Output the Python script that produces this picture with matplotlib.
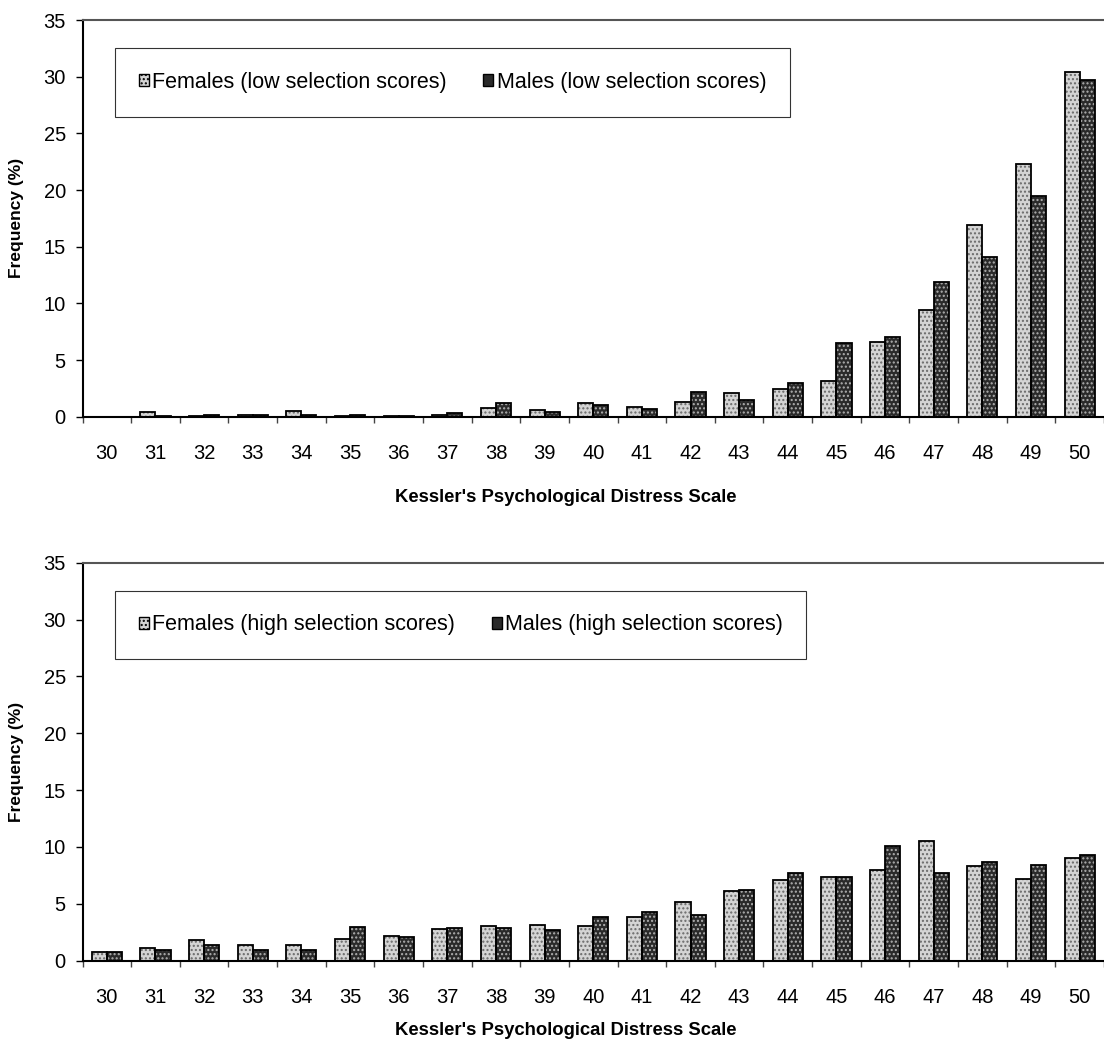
import matplotlib.pyplot as plt
import numpy as np

plt.rcParams["font.family"] = ["Liberation Sans", "DejaVu Sans"]

scores = list(range(30, 51))

# low selection scores (top panel)
females_low = [0.0, 0.4, 0.1, 0.15, 0.5, 0.05, 0.05, 0.15, 0.8, 0.55, 1.25,
               0.85, 1.3, 2.05, 2.45, 3.15, 6.55, 9.45, 16.9, 22.3, 30.4]
males_low = [0.0, 0.05, 0.15, 0.15, 0.15, 0.15, 0.1, 0.35, 1.2, 0.4, 1.0,
             0.65, 2.2, 1.45, 3.0, 6.5, 7.05, 11.9, 14.1, 19.5, 29.7]

# high selection scores (bottom panel)
females_high = [0.8, 1.1, 1.8, 1.35, 1.4, 1.95, 2.15, 2.8, 3.05, 3.15, 3.05,
                3.8, 5.2, 6.1, 7.1, 7.35, 8.0, 10.5, 8.3, 7.15, 9.0]
males_high = [0.8, 0.95, 1.35, 0.95, 0.95, 2.95, 2.05, 2.9, 2.9, 2.7, 3.8,
              4.25, 4.0, 6.25, 7.75, 7.35, 10.05, 7.7, 8.65, 8.45, 9.3]

panels = [
    (females_low, males_low, "Females (low selection scores)", "Males (low selection scores)"),
    (females_high, males_high, "Females (high selection scores)", "Males (high selection scores)"),
]

fig = plt.figure(figsize=(11.04, 10.43), dpi=100)
W, H = 1104.0, 1043.0

# pixel boxes: (top of plot, zero line, legend top, legend bottom, xlabel top)
boxes = [(20.0, 416.7, 46.0, 119.0, 489.0), (562.7, 960.7, 588.0, 661.7, 1022.0)]
left_px = 82.5
bw = 0.31

for (fem, mal, lab_f, lab_m), (top, zero, lt, lb, xl) in zip(panels, boxes):
    ax = fig.add_axes([left_px / W, 1 - zero / H, 1 - left_px / W, (zero - top) / H])
    x = np.arange(len(scores))

    # fills with dotted texture
    ax.bar(x - bw / 2, fem, bw, color="#d4d4d4", edgecolor="#6a6a6a",
           hatch="....", linewidth=0, zorder=2)
    ax.bar(x + bw / 2, mal, bw, color="#2a2a2a", edgecolor="#b0b0b0",
           hatch="....", linewidth=0, zorder=2)
    # outlines
    ax.bar(x - bw / 2, fem, bw, facecolor="none", edgecolor="black", linewidth=1.3, zorder=3)
    ax.bar(x + bw / 2, mal, bw, facecolor="none", edgecolor="black", linewidth=1.3, zorder=3)

    ax.set_xlim(-0.5, 20.35)
    ax.set_ylim(0, 35)
    ax.set_yticks(range(0, 36, 5))
    ax.set_xticks(np.arange(-0.5, 20.6, 1))
    ax.set_xticklabels([])
    ax.set_xticks(x, minor=True)
    ax.set_xticklabels([str(s) for s in scores], minor=True)
    ax.tick_params(axis="x", which="major", direction="out", length=4, width=1, color="#444444")
    ax.tick_params(axis="x", which="minor", length=0, pad=20, labelsize=14.5)
    ax.tick_params(axis="y", direction="out", length=5, width=1, pad=7, labelsize=14.5)

    ax.spines["right"].set_visible(False)
    ax.spines["top"].set_color("#555555")
    ax.spines["top"].set_linewidth(1.5)
    ax.spines["left"].set_linewidth(1.5)
    ax.spines["bottom"].set_linewidth(1.5)

    ax.set_xlabel("Kessler's Psychological Distress Scale", fontsize=13.3, fontweight="bold")
    ax.xaxis.set_label_coords((566 - left_px) / (W - left_px), -(xl - zero) / (zero - top))
    ax.set_ylabel("Frequency (%)", fontsize=12.5, fontweight="bold")
    ax.yaxis.set_label_coords((24 - left_px) / (W - left_px), 0.5)

    h1 = plt.Rectangle((0, 0), 1, 1, facecolor="#d4d4d4", edgecolor="black", hatch="....", linewidth=1)
    h2 = plt.Rectangle((0, 0), 1, 1, facecolor="#2a2a2a", edgecolor="black", linewidth=1)
    leg = fig.legend([h1, h2], [lab_f, lab_m], ncol=2, loc="center left",
                     bbox_to_anchor=(115 / W, 1 - (lt + lb) / 2 / H),
                     fontsize=15.5, frameon=True, fancybox=False, edgecolor="black",
                     handlelength=0.47, handleheight=0.47, handletextpad=0.15,
                     columnspacing=1.7, borderpad=1.1, borderaxespad=0)
    leg.get_frame().set_linewidth(0.8)

fig.savefig("out.png", dpi=100)
